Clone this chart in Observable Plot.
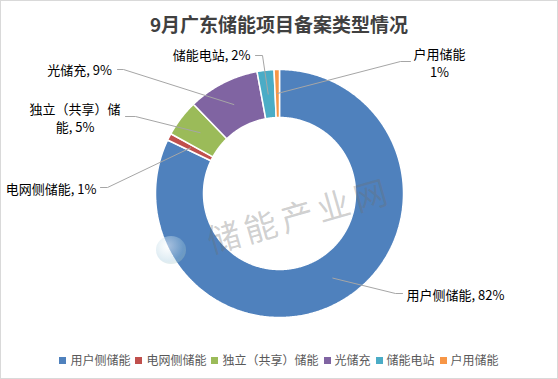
<!DOCTYPE html>
<html><head><meta charset="utf-8">
<script src="https://cdn.jsdelivr.net/npm/d3@7"></script>
<script src="https://cdn.jsdelivr.net/npm/@observablehq/plot@0.6"></script>
<style>
body{margin:0;background:#fff;}
#chart{position:relative;width:558px;height:379px;overflow:hidden;background:#fff;font-family:"Noto Sans CJK SC","Noto Sans",sans-serif;}
#frame{position:absolute;left:0;top:0;width:558px;height:379px;box-sizing:border-box;border:1px solid #d9d9d9;pointer-events:none;}
#title{position:absolute;left:0;top:11px;width:558px;text-align:center;font-size:19px;font-weight:bold;color:#404040;line-height:25px;}
#plot{position:absolute;left:0;top:40px;}
#legend{position:absolute;left:0;top:351px;width:558px;display:flex;justify-content:center;font-size:12px;color:#595959;line-height:18px;white-space:nowrap;}
#legend .item{display:flex;align-items:center;margin:0 2.5px;}
#legend .sw{width:7px;height:7px;margin-right:4px;}
#wm{position:absolute;left:299px;top:214px;transform:translate(-50%,-50%) rotate(-16deg);font-size:33px;letter-spacing:5px;color:rgba(110,110,110,0.33);white-space:nowrap;pointer-events:none;}
#logo{position:absolute;left:156px;top:236px;width:30px;height:28px;border-radius:50%;background:radial-gradient(circle at 40% 35%, rgba(255,255,255,0.5), rgba(160,200,220,0.35) 60%, rgba(200,210,150,0.3));pointer-events:none;}
</style></head>
<body>
<div id="chart">
  <div id="title">9月广东储能项目备案类型情况</div>
  <div id="plot"></div>
  <div id="legend"></div>
  <div id="logo"></div>
  <div id="wm">储能产业网</div>
  <div id="frame"></div>
</div>
<script>
// ---- data ----
const categories = ["用户侧储能","电网侧储能","独立（共享）储能","光储充","储能电站","户用储能"];
const shares = [82.1, 0.9, 4.8, 9.3, 2.2, 0.7];
const colors = ["#4F81BD","#C0504D","#9BBB59","#8064A2","#4BACC6","#F79646"];
const labelTexts = ["用户侧储能, 82%","电网侧储能, 1%","独立（共享）储\n能, 5%","光储充, 9%","储能电站, 2%","户用储能\n1%"];

// ---- layout (page pixels) ----
const CX = 279, CY = 193, R_OUT = 124, R_IN = 76, R_MID = 100;
const layout = [
  {elbow:[395,293], end:[402,293], text:[406,293.5], anchor:"start"},
  {elbow:[107,187], end:[100,187], text:[96,188], anchor:"end"},
  {elbow:[135,116], end:[125,116], text:[74.5,116.5], anchor:"middle"},
  {elbow:[123,69], end:[117,69], text:[111.5,69], anchor:"end"},
  {elbow:[262,55], end:[255,55], text:[250,54], anchor:"end"},
  {elbow:[400,61], end:[410,61], text:[439,61.5], anchor:"middle"}
];
const U = px => px - CX, V = py => CY - py;

const arcs = d3.pie().sort(null).value(d => d)(shares);
const verts = [];
arcs.forEach((a, i) => {
  const n = Math.max(2, Math.ceil((a.endAngle - a.startAngle) / 0.01));
  for (let k = 0; k <= n; k++) {
    const t = a.startAngle + (a.endAngle - a.startAngle) * k / n;
    verts.push({name: categories[i], u: R_OUT * Math.sin(t), v: R_OUT * Math.cos(t)});
  }
  for (let k = n; k >= 0; k--) {
    const t = a.startAngle + (a.endAngle - a.startAngle) * k / n;
    verts.push({name: categories[i], u: R_IN * Math.sin(t), v: R_IN * Math.cos(t)});
  }
});
const leaders = [];
const labels = [];
arcs.forEach((a, i) => {
  const m = (a.startAngle + a.endAngle) / 2;
  const L = layout[i];
  leaders.push({name: categories[i], u: R_MID * Math.sin(m), v: R_MID * Math.cos(m)});
  leaders.push({name: categories[i], u: U(L.elbow[0]), v: V(L.elbow[1])});
  leaders.push({name: categories[i], u: U(L.end[0]), v: V(L.end[1])});
  labels.push({text: labelTexts[i], u: U(L.text[0]), v: V(L.text[1]), anchor: L.anchor});
});

const textOpts = anchor => ({x:"u", y:"v", text:"text", textAnchor: anchor, lineAnchor:"middle", lineHeight:1.38, fontSize:13, fill:"#000"});

const plot = Plot.plot({
  width: 558, height: 300, margin: 0,
  x: {domain: [-279, 279], range: [0, 558], axis: null},
  y: {domain: [153, -147], range: [0, 300], axis: null},
  color: {type: "ordinal", domain: categories, range: colors},
  style: {fontFamily: "'Noto Sans CJK SC','Noto Sans',sans-serif", background: "transparent", overflow: "visible"},
  marks: [
    Plot.line(verts, {x:"u", y:"v", z:"name", fill:"name", stroke:"#fff", strokeWidth:1.5, curve:"linear-closed", strokeLinejoin:"miter"}),
    Plot.line(leaders, {x:"u", y:"v", z:"name", stroke:"#a6a6a6", strokeWidth:1}),
    Plot.text(labels.filter(d => d.anchor === "start"), textOpts("start")),
    Plot.text(labels.filter(d => d.anchor === "end"), textOpts("end")),
    Plot.text(labels.filter(d => d.anchor === "middle"), textOpts("middle"))
  ]
});
document.getElementById("plot").appendChild(plot);

const cs = plot.scale("color");
const leg = document.getElementById("legend");
cs.domain.forEach((name, i) => {
  const it = document.createElement("div"); it.className = "item";
  const sw = document.createElement("span"); sw.className = "sw"; sw.style.background = cs.range[i];
  const tx = document.createElement("span"); tx.textContent = name;
  it.appendChild(sw); it.appendChild(tx); leg.appendChild(it);
});
</script>
</body></html>
